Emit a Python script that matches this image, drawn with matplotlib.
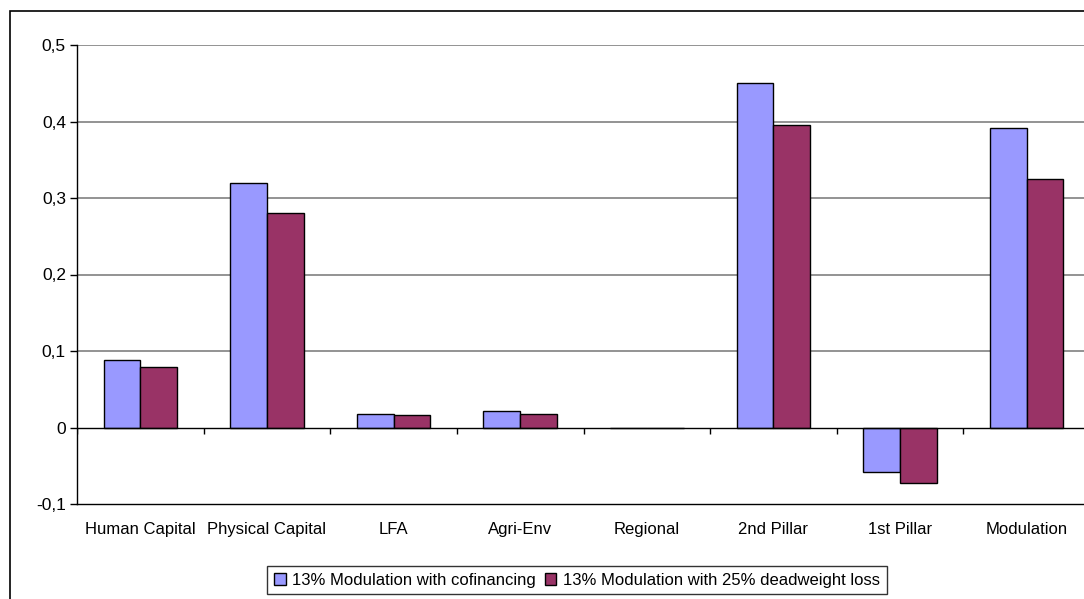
import matplotlib
matplotlib.use('Agg')
import matplotlib.pyplot as plt
from matplotlib.patches import Rectangle
from matplotlib.ticker import FuncFormatter
import numpy as np

plt.rcParams['font.family'] = ['Liberation Sans', 'DejaVu Sans']

categorias = ['Human Capital', 'Physical Capital', 'LFA', 'Agri-Env', 'Regional',
              '2nd Pillar', '1st Pillar', 'Modulation']
cofinancing = [0.088, 0.32, 0.018, 0.021, 0.0, 0.45, -0.058, 0.391]
deadweight = [0.079, 0.281, 0.016, 0.018, 0.0, 0.396, -0.073, 0.325]
nomes = ['13% Modulation with cofinancing', '13% Modulation with 25% deadweight loss']
yticks = [-0.1, 0, 0.1, 0.2, 0.3, 0.4, 0.5]

fig = plt.figure(figsize=(10.84, 5.99), dpi=100)
W, H = 1084, 599
ax = fig.add_axes([77 / W, 95 / H, (1090 - 77) / W, 459 / H])

# moldura externa
fig.patches.append(Rectangle((10 / W, -0.05), 1.1, (599 - 11) / H + 0.05,
                             transform=fig.transFigure, fill=False,
                             edgecolor='black', linewidth=1.2))

x = np.arange(len(categorias))
w = 0.29
ax.bar(x - w / 2, cofinancing, w, color='#9999FF', edgecolor='black', linewidth=1, label=nomes[0], zorder=3)
ax.bar(x + w / 2, deadweight, w, color='#993366', edgecolor='black', linewidth=1, label=nomes[1], zorder=3)

ax.set_xlim(-0.5, len(categorias) - 0.5)
ax.set_ylim(-0.1, 0.5)
ax.set_yticks(yticks)
ax.yaxis.set_major_formatter(FuncFormatter(lambda v, p: ('%g' % round(v, 1)).replace('.', ',')))
for v in yticks[2:]:
    ax.axhline(v, color='#808080', linewidth=1.2, zorder=1)
ax.axhline(0, color='black', linewidth=1, zorder=4)
ax.vlines(np.arange(len(categorias) + 1) - 0.5, -0.008, 0, color='black', linewidth=1, zorder=4)

ax.set_xticks(x)
ax.set_xticklabels(categorias)
ax.tick_params(axis='x', length=0, pad=13, labelsize=12)
ax.tick_params(axis='y', length=5, width=1, direction='out', labelsize=12.5, pad=3)

ax.spines['top'].set_visible(False)
ax.spines['right'].set_visible(False)
ax.spines['left'].set_linewidth(1)
ax.spines['bottom'].set_linewidth(1)

leg = fig.legend(loc='center', bbox_to_anchor=(577 / W, 1 - 580 / H), ncol=2,
                 frameon=True, fancybox=False, handlelength=0.7, handleheight=0.7,
                 handletextpad=0.4, columnspacing=0.5, borderpad=0.4, fontsize=12)
leg.get_frame().set_edgecolor('black')
leg.get_frame().set_linewidth(1)

fig.savefig('out.png', dpi=100)
